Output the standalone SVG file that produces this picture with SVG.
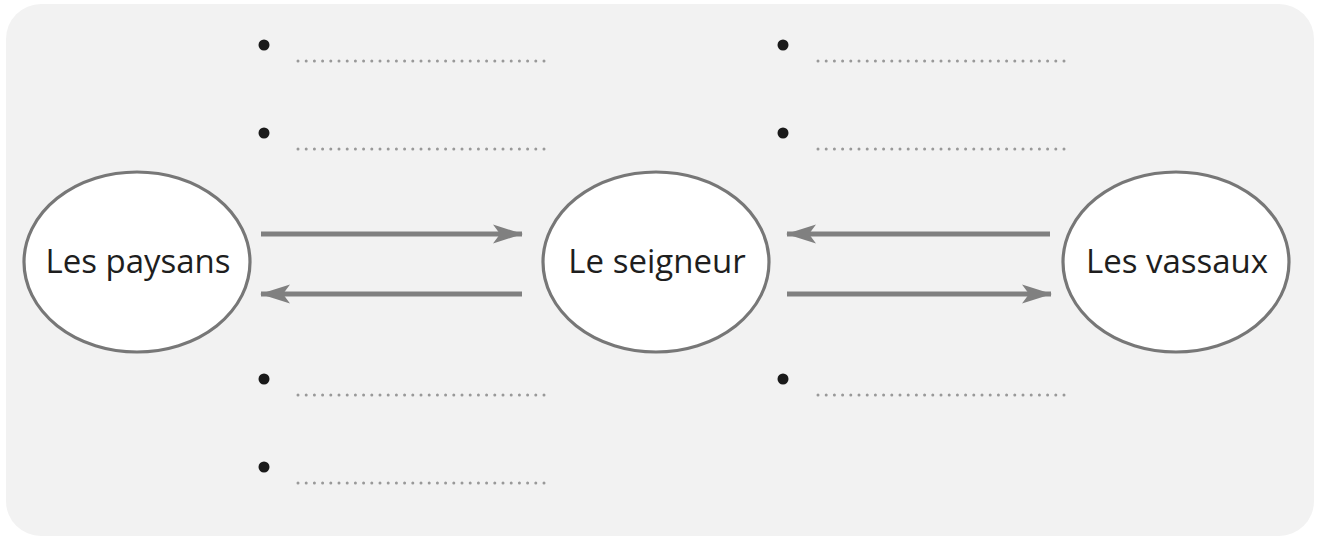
<svg xmlns="http://www.w3.org/2000/svg" width="1317" height="539" viewBox="0 0 1317 539">
  <style>
    .node ellipse { fill: #ffffff; stroke: #777777; stroke-width: 3.2; }
    .node text { font-family: "Open Sans", "Noto Sans", sans-serif; font-size: 33px; fill: #1e1e1e; text-anchor: middle; }
    .conn line { stroke: #808080; stroke-width: 4.8; }
    .bullet { fill: #1a1a1a; }
    .dots { stroke: #999999; stroke-width: 3; stroke-linecap: round; stroke-dasharray: 0 8.2; fill: none; }
  </style>
  <defs>
    <marker id="arrow" viewBox="0 0 30 20" refX="29" refY="10" markerWidth="30" markerHeight="20" markerUnits="userSpaceOnUse" orient="auto">
      <path d="M0,0.5 L30,10 L0,19.5 L7,10 Z" fill="#808080"/>
    </marker>
  </defs>
  <rect x="0" y="0" width="1317" height="539" fill="#ffffff"/>
  <rect x="6" y="4" width="1308" height="532" rx="35" ry="35" fill="#f2f2f2"/>

  <g id="connectors" class="conn">
    <line x1="261" y1="234" x2="522" y2="234" marker-end="url(#arrow)"/>
    <line x1="522" y1="294" x2="261" y2="294" marker-end="url(#arrow)"/>
    <line x1="1050" y1="234" x2="787" y2="234" marker-end="url(#arrow)"/>
    <line x1="787" y1="294" x2="1051" y2="294" marker-end="url(#arrow)"/>
  </g>

  <g id="node-paysans" class="node">
    <ellipse cx="137" cy="262" rx="113" ry="90"/>
    <text x="138" y="273">Les paysans</text>
  </g>
  <g id="node-seigneur" class="node">
    <ellipse cx="656" cy="262" rx="113" ry="90"/>
    <text x="657" y="273">Le seigneur</text>
  </g>
  <g id="node-vassaux" class="node">
    <ellipse cx="1176" cy="262" rx="113" ry="90"/>
    <text x="1177" y="273">Les vassaux</text>
  </g>

  <g id="blanks-left">
    <circle class="bullet" cx="264" cy="45" r="5.5"/>
    <line class="dots" x1="298" y1="61" x2="552" y2="61"/>
    <circle class="bullet" cx="264" cy="133" r="5.5"/>
    <line class="dots" x1="298" y1="149" x2="552" y2="149"/>
    <circle class="bullet" cx="264" cy="379" r="5.5"/>
    <line class="dots" x1="298" y1="395" x2="552" y2="395"/>
    <circle class="bullet" cx="264" cy="467" r="5.5"/>
    <line class="dots" x1="298" y1="483" x2="552" y2="483"/>
  </g>
  <g id="blanks-right">
    <circle class="bullet" cx="783" cy="45" r="5.5"/>
    <line class="dots" x1="818" y1="61" x2="1070" y2="61"/>
    <circle class="bullet" cx="783" cy="133" r="5.5"/>
    <line class="dots" x1="818" y1="149" x2="1070" y2="149"/>
    <circle class="bullet" cx="783" cy="379" r="5.5"/>
    <line class="dots" x1="818" y1="395" x2="1070" y2="395"/>
  </g>
</svg>
